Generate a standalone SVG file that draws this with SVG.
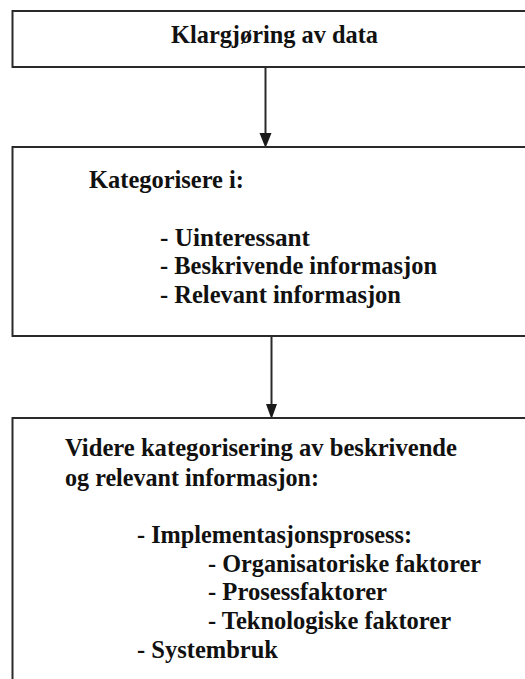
<svg xmlns="http://www.w3.org/2000/svg" width="525" height="679" viewBox="0 0 525 679">
  <defs>
    <style>
      .box { fill: #ffffff; stroke: #2a2a2a; stroke-width: 2; }
      .edge { stroke: #2a2a2a; stroke-width: 2; fill: none; }
      .head { fill: #1a1a1a; }
    </style>
  </defs>
  <rect width="525" height="679" fill="#ffffff"/>

  <!-- all labels share one serif bold face -->
  <g font-family="'Liberation Serif', 'Times New Roman', serif" font-weight="bold" font-size="25" fill="#111111">
    <g id="prepare">
      <rect class="box" x="12.5" y="11" width="530" height="56"/>
      <text x="171" y="43" textLength="207" lengthAdjust="spacingAndGlyphs">Klargjøring av data</text>
    </g>

    <g id="categorize">
      <rect class="box" x="12.5" y="147" width="530" height="189"/>
      <text x="89" y="188" textLength="155" lengthAdjust="spacingAndGlyphs">Kategorisere i:</text>
      <text x="160" y="246" textLength="150" lengthAdjust="spacingAndGlyphs">- Uinteressant</text>
      <text x="160" y="274" textLength="277" lengthAdjust="spacingAndGlyphs">- Beskrivende informasjon</text>
      <text x="160" y="303" textLength="241" lengthAdjust="spacingAndGlyphs">- Relevant informasjon</text>
    </g>

    <g id="refine">
      <rect class="box" x="12.5" y="418" width="530" height="300"/>
      <text x="65" y="456" textLength="392" lengthAdjust="spacingAndGlyphs">Videre kategorisering av beskrivende</text>
      <text x="65" y="486" textLength="254" lengthAdjust="spacingAndGlyphs">og relevant informasjon:</text>
      <text x="137" y="543" textLength="275" lengthAdjust="spacingAndGlyphs">- Implementasjonsprosess:</text>
      <text x="208" y="572" textLength="273" lengthAdjust="spacingAndGlyphs">- Organisatoriske faktorer</text>
      <text x="208" y="600" textLength="179" lengthAdjust="spacingAndGlyphs">- Prosessfaktorer</text>
      <text x="208" y="629" textLength="243" lengthAdjust="spacingAndGlyphs">- Teknologiske faktorer</text>
      <text x="137" y="658" textLength="141" lengthAdjust="spacingAndGlyphs">- Systembruk</text>
    </g>
  </g>

  <!-- connectors: straight drops with flat-topped triangular heads -->
  <g id="connectors">
    <line class="edge" x1="265.5" y1="67" x2="265.5" y2="133"/>
    <path class="head" d="M259.5,133 L271.5,133 L266.3,146 L264.7,146 Z"/>
    <line class="edge" x1="271.5" y1="336" x2="271.5" y2="404"/>
    <path class="head" d="M266,404 L277,404 L272.3,417 L270.7,417 Z"/>
  </g>
</svg>
